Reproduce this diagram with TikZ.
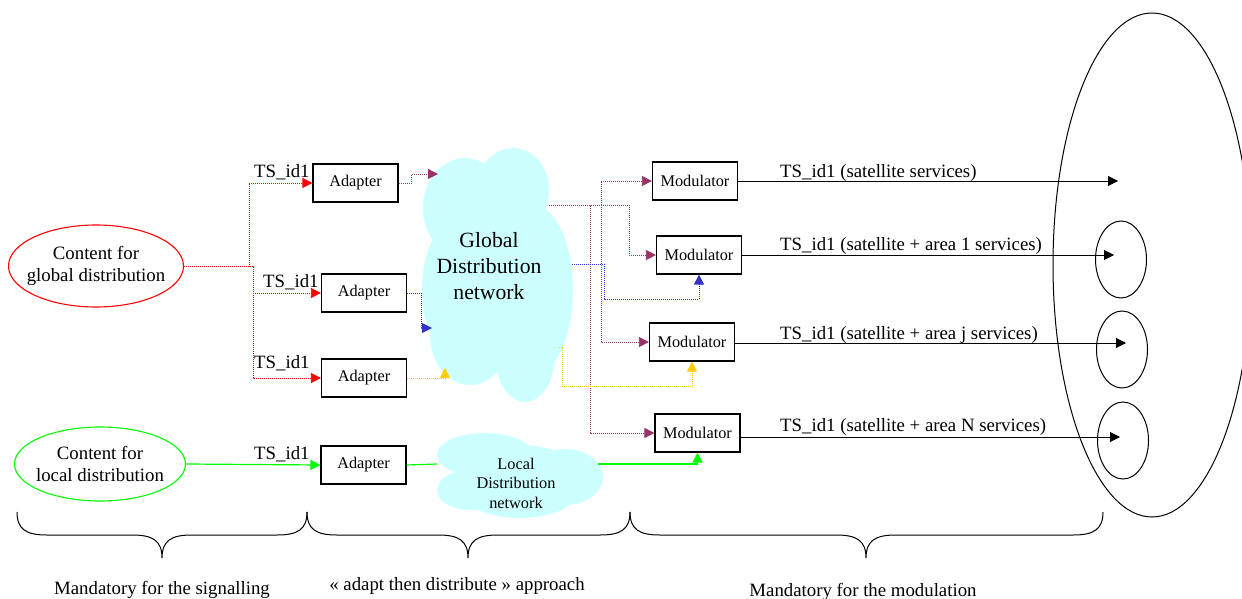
\documentclass[tikz,border=0pt]{standalone}
\usepackage{fontspec}
\setmainfont{Liberation Serif}
\usetikzlibrary{arrows.meta,shapes.geometric}
\definecolor{plum}{RGB}{153,51,102}
\definecolor{bluish}{RGB}{51,51,204}
\definecolor{gold}{RGB}{255,204,0}
\definecolor{brightgreen}{RGB}{0,255,0}
\definecolor{cloudcyan}{RGB}{204,255,255}

\begin{document}
\begin{tikzpicture}[x=1pt,y=-1pt,
  txt/.style={font=\fontsize{18.8}{22}\selectfont,inner sep=0pt},
  box/.style={draw,line width=1.2pt,minimum width=85pt,minimum height=38pt,inner sep=0pt,font=\fontsize{16.3}{19}\selectfont},
  src/.style={ellipse,line width=1.1pt,align=center,inner xsep=-8pt,inner ysep=4pt,font=\fontsize{18.8}{22}\selectfont},
  area/.style={ellipse,draw,line width=1pt,minimum width=51pt,minimum height=77pt,inner sep=0pt},
  dots/.style={line width=0.8pt,dash pattern=on 1pt off 1pt},
  arr/.style={-{Triangle[length=10pt,width=10pt]}}]
\useasboundingbox (0,0) rectangle (1242,599);
\clip (0,0) rectangle (1242,599);
% clouds
\fill[cloudcyan] (465,208) ellipse [x radius=42pt,y radius=50pt]
  (513,190) ellipse [x radius=36pt,y radius=42pt]
  (533,290) ellipse [x radius=40pt,y radius=85pt]
  (462,290) ellipse [x radius=40pt,y radius=75pt]
  (470,335) ellipse [x radius=40pt,y radius=50pt]
  (525,355) ellipse [x radius=30pt,y radius=47pt]
  (495,280) ellipse [x radius=45pt,y radius=90pt];
\node[font=\fontsize{21.7}{26}\selectfont,align=center,inner sep=0pt] (gdn) at (489,266) {Global\\Distribution\\network};
\fill[cloudcyan] (485,455) ellipse [x radius=48pt,y radius=22pt]
  (565,477) ellipse [x radius=38pt,y radius=28pt]
  (520,495) ellipse [x radius=55pt,y radius=23pt]
  (470,490) ellipse [x radius=33pt,y radius=20pt]
  (520,475) ellipse [x radius=60pt,y radius=30pt];
\node[font=\fontsize{16.3}{19.5}\selectfont,align=center,inner sep=0pt] (ldn) at (516,483) {Local\\Distribution\\network};
\coordinate (gin1) at (438,174);
\coordinate (gin2) at (432,328);
\coordinate (gin3) at (445,368);
\coordinate (gout1) at (549,205);
\coordinate (gout2) at (572,264);
\coordinate (gout3) at (559,347);
\coordinate (lin) at (437,464);
\coordinate (lout) at (598,464);
% sources
\node[src,draw=red,minimum width=175pt,minimum height=82pt] (cgd) at (96,266) {Content for\\global distribution};
\node[src,draw=brightgreen,minimum width=171pt,minimum height=74pt] (cld) at (100,464) {Content for\\local distribution};
% adapters
\node[box] (ad1) at (355.5,183) {Adapter};
\node[box] (ad2) at (364,293) {Adapter};
\node[box] (ad3) at (364,378) {Adapter};
\node[box] (ad4) at (363.5,465) {Adapter};
\node[txt,anchor=base west] (ts1) at (254,178) {TS\_id1};
\node[txt,anchor=base west] (ts2) at (263,287) {TS\_id1};
\node[txt,anchor=base west] (ts3) at (254,368) {TS\_id1};
\node[txt,anchor=base west] (ts4) at (254,459) {TS\_id1};
% modulators
\node[box] (mod1) at (695,181) {Modulator};
\node[box] (mod2) at (699,255) {Modulator};
\node[box] (mod3) at (692,342) {Modulator};
\node[box] (mod4) at (697.5,433) {Modulator};
% signalling
\draw[dots,red,arr] (cgd.east) -- ++(65,0) |- (ad1.west);
\draw[dots,red,arr] (cgd.east) -- ++(69,0) |- (ad2.west);
\draw[dots,red,arr] (cgd.east) -- ++(69,0) |- (ad3.west);
\draw[line width=1.2pt,brightgreen,arr] (cld.east) -- (ad4.west);
% adapt then distribute
\draw[dots,plum,arr] (ad1.east) -- ++(13,0) |- (gin1);
\draw[dots,bluish,arr] (ad2.east) -- ++(14,0) |- (gin2);
\draw[dots,gold,arr] (ad3.east) -| (gin3);
\draw[line width=1.2pt,brightgreen] (ad4.east) -- (lin);
\draw[dots,plum,arr] (gout1) -- ++(52,0) |- (mod1.west);
\draw[dots,plum,arr] (gout1) -- ++(80,0) |- (mod2.west);
\draw[dots,plum,arr] (gout1) -- ++(52,0) |- (mod3.west);
\draw[dots,plum,arr] (gout1) -- ++(41,0) |- (mod4.west);
\draw[dots,bluish,arr] (gout2) -- ++(32,0) -- ++(0,35) -| (mod2.south);
\draw[dots,gold,arr] (gout3) -- ++(3,0) -- ++(0,39) -| (mod3.south);
\draw[line width=1.2pt,brightgreen,arr] (lout) -| (mod4.south);
% modulation
\draw[line width=1pt] (1152,265) ellipse [x radius=99pt,y radius=252pt];
\node[area] (a1) at (1121,259.5) {};
\node[area] (aj) at (1122,349.5) {};
\node[area] (aN) at (1123,440.5) {};
\coordinate (t1) at (1118,181);
\coordinate (t2) at (1114,255);
\coordinate (t3) at (1126,343);
\coordinate (t4) at (1120,437);
\draw[line width=1pt,arr] (mod1.east) -- (t1);
\draw[line width=1pt,arr] (mod2.east) -- (t2);
\draw[line width=1pt,arr] (mod3.east |- t3) -- (t3);
\draw[line width=1pt,arr] (mod4.east |- t4) -- (t4);
\node[txt,anchor=base west] (o1) at (780,177) {TS\_id1 (satellite services)};
\node[txt,anchor=base west] (o2) at (780,250) {TS\_id1 (satellite + area 1 services)};
\node[txt,anchor=base west] (o3) at (780,339) {TS\_id1 (satellite + area j services)};
\node[txt,anchor=base west] (o4) at (780,431) {TS\_id1 (satellite + area N services)};
% braces
\draw[line width=1pt] (17,512) .. controls (17,530) and (27,535) .. (47,535) -- (132,535) .. controls (152,535) and (162,540) .. (162,558) .. controls (162,540) and (172,535) .. (192,535) -- (277,535) .. controls (297,535) and (307,530) .. (307,512);
\draw[line width=1pt] (307,512) .. controls (307,530) and (317,535) .. (337,535) -- (438,535) .. controls (458,535) and (468,540) .. (468,558) .. controls (468,540) and (478,535) .. (498,535) -- (600,535) .. controls (620,535) and (630,530) .. (630,512);
\draw[line width=1pt] (630,512) .. controls (630,530) and (640,535) .. (660,535) -- (836,535) .. controls (856,535) and (866,540) .. (866,558) .. controls (866,540) and (876,535) .. (896,535) -- (1073,535) .. controls (1093,535) and (1103,530) .. (1103,512);
\node[txt,anchor=base] (lsig) at (162,594) {Mandatory for the signalling};
\node[txt,anchor=base] (lapp) at (457,590) {« adapt then distribute » approach};
\node[txt,anchor=base] (lmod) at (863,596) {Mandatory for the modulation};
\end{tikzpicture}
\end{document}
